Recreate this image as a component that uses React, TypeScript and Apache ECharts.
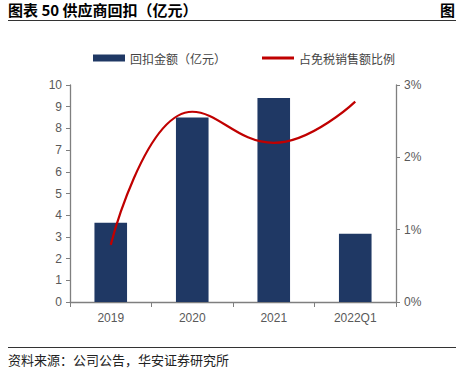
import React, { useEffect, useRef } from "react";
import * as echarts from "echarts";

const categories = ["2019", "2020", "2021", "2022Q1"];
const rebateValues = [3.65, 8.5, 9.4, 3.15];
const ratioValues = [0.79, 2.63, 2.2, 2.77];
const leftTicks = [0, 1, 2, 3, 4, 5, 6, 7, 8, 9, 10];
const rightTicks = [0, 1, 2, 3];

export default function App() {
  const ref = useRef<HTMLDivElement>(null);
  useEffect(() => {
    document.body.style.margin = "0";
    const chart = echarts.init(ref.current!, undefined, { renderer: "svg" });
    const axisGrey = "#7f7f7f";
    const labelGrey = "#595959";
    chart.setOption({
      animation: false,
      backgroundColor: "#ffffff",
      textStyle: { fontFamily: "Liberation Sans, Arial, sans-serif" },
      graphic: [
        {
          type: "text",
          left: 8,
          top: 2,
          style: {
            text: "图表 50 供应商回扣（亿元）",
            font: "bold 15px 'Noto Sans CJK SC', sans-serif",
            fill: "#000",
          },
        },
        {
          type: "text",
          left: 440,
          top: 2,
          style: {
            text: "图",
            font: "bold 15px 'Noto Sans CJK SC', sans-serif",
            fill: "#000",
          },
        },
        {
          type: "line",
          shape: { x1: 8, y1: 20.5, x2: 456, y2: 20.5 },
          style: { stroke: "#333", lineWidth: 1.2 },
        },
        {
          type: "line",
          shape: { x1: 8, y1: 347.5, x2: 456, y2: 347.5 },
          style: { stroke: "#333", lineWidth: 1 },
        },
        {
          type: "text",
          left: 8,
          top: 353,
          style: {
            text: "资料来源：公司公告，华安证券研究所",
            font: "13px 'Noto Sans CJK SC', sans-serif",
            fill: "#222",
          },
        },
      ],
      legend: {
        top: 47,
        left: 88,
        itemGap: 36,
        itemWidth: 32,
        itemHeight: 7,
        textStyle: {
          fontFamily: "'Noto Sans CJK SC', sans-serif",
          fontSize: 12,
          color: "#444",
        },
        data: [
          { name: "回扣金额（亿元）", icon: "rect" },
          { name: "占免税销售额比例", icon: "path://M0 0H32V3H0Z" },
        ],
      },
      grid: { left: 70, right: 60, top: 85, bottom: 81, containLabel: false },
      xAxis: {
        type: "category",
        data: categories,
        axisLine: { lineStyle: { color: axisGrey, width: 1.3 } },
        axisTick: { show: true, alignWithLabel: false, length: 5, lineStyle: { color: axisGrey } },
        axisLabel: { color: labelGrey, fontSize: 12, margin: 10 },
      },
      yAxis: [
        {
          type: "value",
          min: leftTicks[0],
          max: leftTicks[leftTicks.length - 1],
          interval: 1,
          axisLine: { show: true, lineStyle: { color: axisGrey, width: 1.3 } },
          axisTick: { show: true, length: 4, lineStyle: { color: axisGrey } },
          axisLabel: { color: labelGrey, fontSize: 12, margin: 8 },
          splitLine: { show: false },
        },
        {
          type: "value",
          min: rightTicks[0],
          max: rightTicks[rightTicks.length - 1],
          interval: 1,
          position: "right",
          axisLine: { show: true, lineStyle: { color: axisGrey, width: 1.3 } },
          axisTick: { show: true, length: 4, lineStyle: { color: axisGrey } },
          axisLabel: { color: labelGrey, fontSize: 12, margin: 8, formatter: "{value}%" },
          splitLine: { show: false },
        },
      ],
      series: [
        {
          name: "回扣金额（亿元）",
          type: "bar",
          data: rebateValues,
          barWidth: "40%",
          itemStyle: { color: "#1f3864" },
        },
        {
          name: "占免税销售额比例",
          type: "line",
          yAxisIndex: 1,
          data: ratioValues,
          smooth: 0.45,
          symbol: "none",
          lineStyle: { color: "#c00000", width: 2.2 },
          itemStyle: { color: "#c00000" },
        },
      ],
    });
    return () => chart.dispose();
  }, []);
  return <div ref={ref} style={{ width: 456, height: 383 }} />;
}
